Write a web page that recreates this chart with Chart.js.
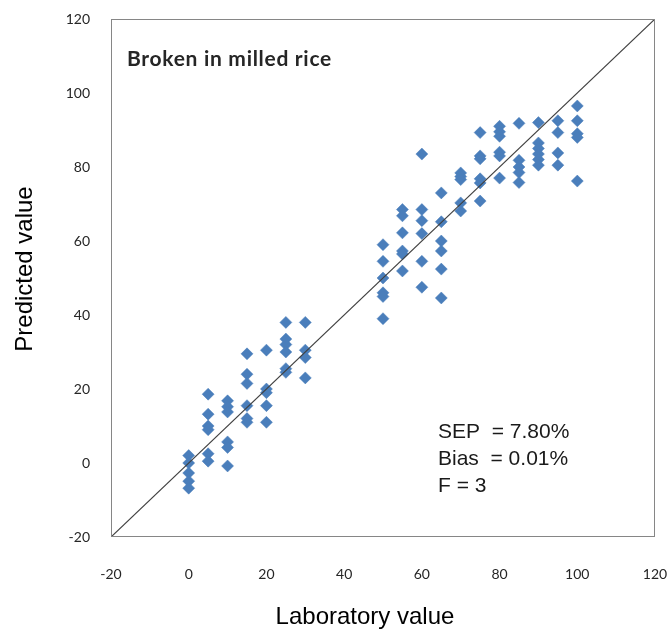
<!DOCTYPE html>
<html>
<head>
<meta charset="utf-8">
<script src="https://cdn.jsdelivr.net/npm/chart.js@4/dist/chart.umd.min.js"></script>
<style>
  html, body { margin: 0; padding: 0; background: #ffffff; }
  #chart { display: block; }
</style>
</head>
<body>
<canvas id="chart" width="671" height="633"></canvas>
<script>
// Laboratory value (x) and predicted value (y)
const labValues = [
    0, 0, 0, 0, 0,
    5, 5, 5, 5, 5, 5,
    10, 10, 10, 10, 10, 10,
    15, 15, 15, 15, 15, 15,
    20, 20, 20, 20, 20,
    25, 25, 25, 25, 25, 25,
    30, 30, 30, 30,
    50, 50, 50, 50, 50, 50,
    55, 55, 55, 55, 55, 55,
    60, 60, 60, 60, 60, 60,
    65, 65, 65, 65, 65, 65,
    70, 70, 70, 70, 70,
    75, 75, 75, 75, 75, 75,
    80, 80, 80, 80, 80, 80,
    85, 85, 85, 85, 85,
    90, 90, 90, 90, 90, 90,
    95, 95, 95, 95,
    100, 100, 100, 100, 100
];
const predictedValues = [
    2, 0, -2.7, -4.9, -6.8,
    18.6, 13.2, 10, 9, 2.5, 0.5,
    16.8, 15.2, 13.8, 5.7, 4.2, -0.8,
    29.5, 24, 21.5, 15.5, 12, 11,
    30.5, 20, 19, 15.5, 11,
    38, 33.5, 32, 30, 25.5, 24.5,
    38, 30.5, 28.5, 23,
    59, 54.5, 50, 46, 45, 39,
    68.5, 66.8, 62.2, 57.3, 56.5, 51.9,
    83.5, 68.5, 65.5, 62, 54.5, 47.5,
    73, 65.2, 60, 57.3, 52.4, 44.6,
    78.4, 77.4, 76.6, 70.3, 68.1,
    89.3, 83, 82.2, 76.8, 75.7, 70.8,
    91, 89.5, 88.3, 84, 83, 77,
    91.8, 81.8, 80, 78.5, 75.8,
    92, 86.5, 85, 83.5, 82, 80.5,
    92.5, 89.3, 83.8, 80.5,
    96.5, 92.5, 89, 88, 76.2
];

// 1:1 reference line
const lineX = [-20, 120];
const lineY = [-20, 120];

// Axis ticks
const axisMin = -20;
const axisMax = 120;
const axisStep = 20;

// Annotation text
const panelTitle = 'Broken in milled rice';
const statsLines = ['SEP  = 7.80%', 'Bias  = 0.01%', 'F = 3'];
const xTitle = 'Laboratory value';
const yTitle = 'Predicted value';

const points = labValues.map((x, i) => ({ x: x, y: predictedValues[i] }));
const refLine = lineX.map((x, i) => ({ x: x, y: lineY[i] }));

// Plot frame, text inside the plot and the axis titles
const framePlugin = {
    id: 'frame',
    afterDraw(chart) {
        const { ctx, chartArea } = chart;
        ctx.save();
        ctx.strokeStyle = '#868686';
        ctx.lineWidth = 1;
        ctx.strokeRect(chartArea.left + 0.5, chartArea.top + 0.5,
            chartArea.right - chartArea.left - 1, chartArea.bottom - chartArea.top - 1);

        ctx.fillStyle = '#262626';
        ctx.textBaseline = 'middle';
        ctx.font = 'bold 21px Lato';
        ctx.letterSpacing = '0.7px';
        ctx.fillText(panelTitle, chartArea.left + 16, chartArea.top + 40);
        ctx.letterSpacing = '0px';

        ctx.font = '21px "Liberation Sans"';
        ctx.fillStyle = '#1a1a1a';
        statsLines.forEach((line, i) => {
            ctx.fillText(line, chartArea.left + 327, chartArea.top + 413 + i * 27);
        });

        // axis titles (the original sits a bit left / above the plot centre)
        ctx.fillStyle = '#000000';
        ctx.font = '24px "Liberation Sans"';
        ctx.textAlign = 'center';
        ctx.fillText(xTitle, 365, 617);
        ctx.translate(25, 269);
        ctx.rotate(-Math.PI / 2);
        ctx.fillText(yTitle, 0, 0);
        ctx.restore();
    }
};

const tickFont = { family: 'Lato', size: 14 };

new Chart(document.getElementById('chart'), {
    type: 'scatter',
    data: {
        datasets: [
            {
                type: 'line',
                data: refLine,
                borderColor: '#404040',
                borderWidth: 1.2,
                pointRadius: 0,
                fill: false
            },
            {
                data: points,
                pointStyle: 'rectRot',
                pointRadius: 6,
                pointBackgroundColor: '#4a7ebb',
                pointBorderColor: '#4a7ebb',
                pointBorderWidth: 0.5
            }
        ]
    },
    options: {
        responsive: false,
        animation: false,
        layout: { padding: { top: 19, right: 16, left: 0, bottom: 0 } },
        plugins: {
            legend: { display: false },
            tooltip: { enabled: false }
        },
        scales: {
            x: {
                type: 'linear',
                min: axisMin,
                max: axisMax,
                afterFit: s => {
                    s.height = 96;
                    s.paddingLeft = 0;
                    s.paddingRight = 0;
                },
                grid: { display: false, drawTicks: false },
                border: { display: false },
                ticks: {
                    stepSize: axisStep,
                    padding: 29,
                    color: '#262626',
                    font: tickFont,
                    maxRotation: 0
                }
            },
            y: {
                type: 'linear',
                min: axisMin,
                max: axisMax,
                afterFit: s => {
                    s.width = 111;
                    s.paddingTop = 0;
                    s.paddingBottom = 0;
                },
                grid: { display: false, drawTicks: false },
                border: { display: false },
                ticks: {
                    stepSize: axisStep,
                    padding: 21,
                    color: '#262626',
                    font: tickFont
                }
            }
        }
    },
    plugins: [framePlugin]
});
</script>
</body>
</html>
